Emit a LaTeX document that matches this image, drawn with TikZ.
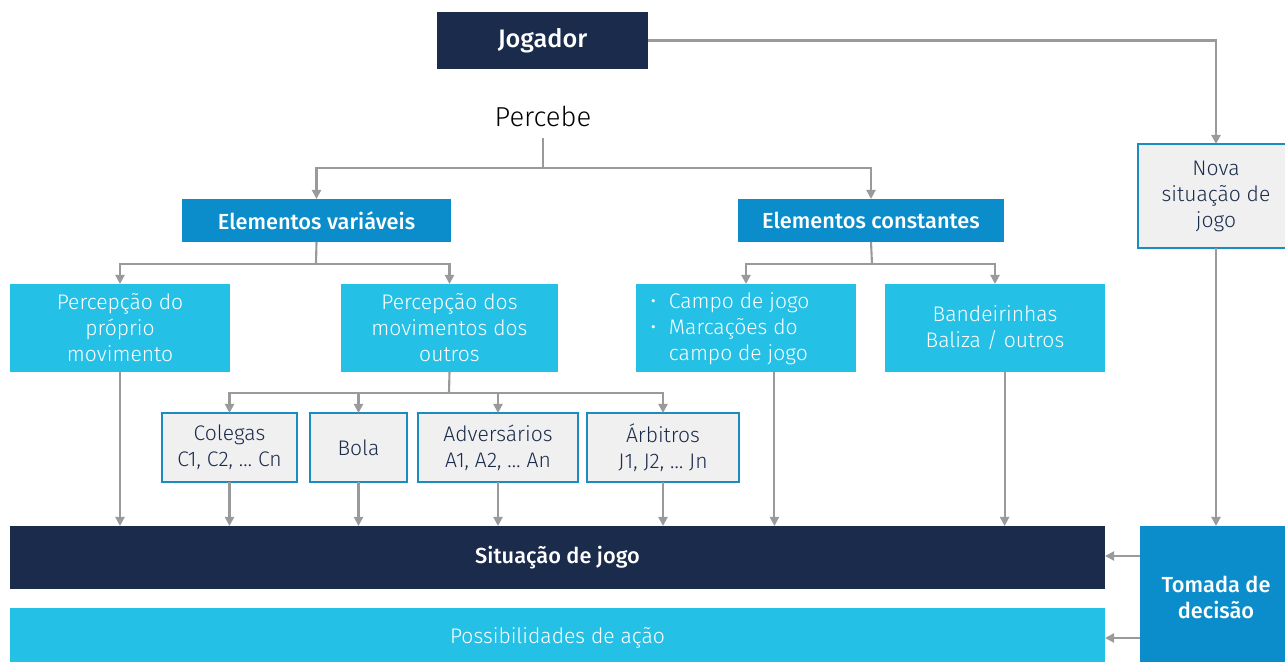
\documentclass[tikz,border=0pt]{standalone}
\usepackage{fontspec}
\setmainfont{Fira Sans}[UprightFont={* Light}, BoldFont={* Medium}]
\usetikzlibrary{arrows.meta,calc}
\definecolor{navy}{HTML}{1B2B4B}
\definecolor{midblue}{HTML}{0B8DCB}
\definecolor{cyanbox}{HTML}{25C0E6}
\definecolor{lightfill}{HTML}{F0F0F0}
\definecolor{bordblue}{HTML}{1A8CC0}
\definecolor{linegray}{HTML}{9A9A9A}
\newcommand\pbox[7]{%
  \node[#1, minimum width={(#5-#3)*0.025cm}, minimum height={(#6-#4)*0.025cm}]
    (#2) at ({(#3+#5)/2},{(#4+#6)/2}) {#7};}
\begin{document}
\begin{tikzpicture}[x=0.025cm,y=-0.025cm,
  font=\fontsize{15}{18.5}\selectfont,
  basebox/.style={inner sep=0pt, outer sep=0pt, align=center},
  navybox/.style={basebox, fill=navy, text=white, font=\fontsize{15.5}{18.5}\selectfont\bfseries},
  midbox/.style={basebox, fill=midblue, text=white, font=\fontsize{15.5}{18.5}\selectfont\bfseries},
  cyanfill/.style={basebox, fill=cyanbox, text=white},
  graybox/.style={basebox, fill=lightfill, draw=bordblue, line width=1.5pt, text=navy},
  conn/.style={draw=linegray, line width=1.5pt},
  arr/.style={conn, -{Triangle[width=6.5pt,length=6.5pt]}}]
\useasboundingbox (0,0) rectangle (1285,662);

\pbox{navybox, font=\fontsize{18}{20}\selectfont\bfseries}{jog}{437}{12}{648}{69}{Jogador}
\node[inner sep=0pt, font=\fontsize{19.5}{22}\selectfont] (perc) at (543,116) {Percebe};

\pbox{midbox}{ev}{182}{199}{451}{242}{Elementos variáveis}
\pbox{midbox}{ec}{738}{199}{1004}{242}{Elementos constantes}

\pbox{cyanfill}{ppm}{10}{284}{230}{372}{Percepção do\\próprio\\movimento}
\pbox{cyanfill}{pmo}{341}{284}{558}{372}{Percepção dos\\movimentos dos\\outros}
\pbox{cyanfill}{campo}{636}{284}{856}{372}{}
\node[inner sep=0pt, text=white, align=left, anchor=west] (campotxt) at (650,329)
  {\textbullet\hspace{0.6em}Campo de jogo\\\textbullet\hspace{0.6em}Marcações do\\\phantom{\textbullet}\hspace{0.6em}campo de jogo};
\pbox{cyanfill}{band}{885}{284}{1105}{372}{Bandeirinhas\\Baliza / outros}

\pbox{graybox}{col}{162}{413}{297}{482}{Colegas\\C1, C2, … Cn}
\pbox{graybox}{bola}{310}{413}{407}{482}{Bola}
\pbox{graybox}{adv}{418}{413}{578}{482}{Adversários\\A1, A2, … An}
\pbox{graybox}{arb}{587}{413}{739}{482}{Árbitros\\J1, J2, … Jn}

\pbox{graybox}{nova}{1138}{144}{1294}{248}{Nova\\situação de\\jogo}

\pbox{navybox}{sit}{10}{526}{1105}{589}{Situação de jogo}
\pbox{cyanfill}{pos}{10}{608}{1105}{668}{Possibilidades de ação}
\pbox{midbox}{tom}{1140}{526}{1292}{668}{Tomada de\\decisão}

\coordinate (j1) at (543,168);
\coordinate (j2) at (316,264);
\coordinate (j3) at (872,264);
\coordinate (j4) at (449,393);

\draw[conn, shorten <=8pt] (perc.south) -- (j1);
\draw[arr] (j1) -| (ev.north);
\draw[arr] (j1) -| (ec.north);
\draw[conn] (ev.south) -- (j2);
\draw[arr] (j2) -| (ppm.north);
\draw[arr] (j2) -| (pmo.north);
\draw[conn] (ec.south) -- (j3);
\draw[arr] (j3) -| (campo.north);
\draw[arr] (j3) -| (band.north);
\draw[conn] (pmo.south) -- (j4);
\draw[arr] (j4) -| (col.north);
\draw[arr] (j4) -| (bola.north);
\draw[arr] (j4) -| (adv.north);
\draw[arr] (j4) -| (arb.north);

\foreach \n in {ppm,col,bola,adv,arb}
  \draw[arr] (\n.south) -- (\n.south |- sit.north);
\coordinate (campoout) at ([xshift=0.71cm]campo.south);
\coordinate (bandout) at ([xshift=0.24cm]band.south);
\draw[arr] (campoout) -- (campoout |- sit.north);
\draw[arr] (bandout) -- (bandout |- sit.north);

\draw[arr] (jog.east) -| (nova.north);
\draw[arr] (nova.south) -- (nova.south |- tom.north);
\draw[arr] (tom.west |- 0,556) -- (sit.east |- 0,556);
\draw[arr] (tom.west |- 0,638) -- (pos.east |- 0,638);
\end{tikzpicture}
\end{document}
